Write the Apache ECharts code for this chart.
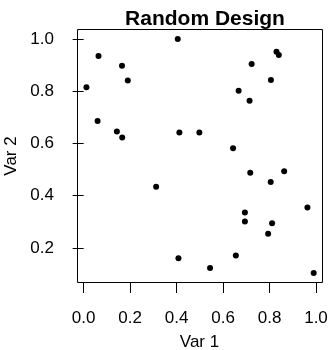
<!DOCTYPE html>
<html>
<head>
<meta charset="utf-8">
<script src="https://cdn.jsdelivr.net/npm/echarts@6/dist/echarts.min.js"></script>
<style>
  html, body { margin: 0; padding: 0; background: #fff; }
  #chart { width: 330px; height: 350px; }
</style>
</head>
<body>
<div id="chart"></div>
<script>
// points
const var1 = [0.012, 0.064, 0.060, 0.143, 0.166, 0.165, 0.190, 0.312, 0.405, 0.412,
  0.408, 0.498, 0.544, 0.643, 0.655, 0.667, 0.694, 0.694, 0.714, 0.723,
  0.717, 0.794, 0.805, 0.806, 0.811, 0.830, 0.840, 0.863, 0.963, 0.990];
const var2 = [0.815, 0.935, 0.686, 0.646, 0.623, 0.898, 0.841, 0.434, 1.000, 0.642,
  0.161, 0.642, 0.123, 0.582, 0.171, 0.802, 0.336, 0.301, 0.764, 0.904,
  0.488, 0.254, 0.452, 0.843, 0.295, 0.951, 0.939, 0.494, 0.355, 0.104];

const xTicks = [0, 0.2, 0.4, 0.6, 0.8, 1.0];
const yTicks = [0.2, 0.4, 0.6, 0.8, 1.0];

const font = 'Liberation Sans, Arial, Helvetica, sans-serif';
const X_MIN = -0.0286, X_MAX = 1.0258;
const Y_MIN = 0.0696, Y_MAX = 1.0344;

const lbl = { fontFamily: font, fontSize: 17, color: '#000' };
const tick = { show: true, inside: false, length: 11, lineStyle: { color: '#000', width: 1 } };

// one decimal, never throws whatever it gets
function oneDec(v) {
  let n = (v && typeof v === 'object') ? v.value : v;
  n = parseFloat(n);
  return isNaN(n) ? '' : n.toFixed(1);
}

const chart = echarts.init(document.getElementById('chart'));

chart.setOption({
  animation: false,
  title: {
    text: 'Random Design',
    left: 200, textAlign: 'center',
    top: 4,
    textStyle: { fontFamily: font, fontSize: 21, fontWeight: 'bold', color: '#000' }
  },
  grid: {
    left: 77, right: 8, top: 30, bottom: 68,
    outerBoundsMode: 'none', containLabel: false
  },
  xAxis: {
    type: 'value',
    min: X_MIN, max: X_MAX,
    name: 'Var 1', nameLocation: 'middle', nameGap: 52,
    nameTextStyle: { fontFamily: font, fontSize: 17, color: '#000' },
    axisLine: { show: false },
    splitLine: { show: false },
    axisTick: Object.assign({ customValues: xTicks }, tick),
    axisLabel: Object.assign({ customValues: xTicks, margin: 28, formatter: oneDec }, lbl)
  },
  yAxis: {
    type: 'value',
    min: Y_MIN, max: Y_MAX,
    name: 'Var 2', nameLocation: 'middle', nameGap: 52, nameRotate: 90,
    nameTextStyle: { fontFamily: font, fontSize: 17, color: '#000' },
    axisLine: { show: false },
    splitLine: { show: false },
    axisTick: Object.assign({ customValues: yTicks }, tick),
    axisLabel: Object.assign({ customValues: yTicks, margin: 23, formatter: oneDec }, lbl)
  },
  series: [{
    type: 'scatter',
    data: var1.map((x, i) => [x, var2[i]]),
    symbol: 'circle',
    symbolSize: 6,
    itemStyle: { color: '#000', opacity: 1 }
  }]
});

// plot frame: corners taken from the axes' own scales
const p0 = chart.convertToPixel({ gridIndex: 0 }, [X_MIN, Y_MAX]);
const p1 = chart.convertToPixel({ gridIndex: 0 }, [X_MAX, Y_MIN]);
const fx = Math.floor(p0[0]) + 0.5, fy = Math.floor(p0[1]) + 0.5;
const fx2 = Math.floor(p1[0]) + 0.5, fy2 = Math.floor(p1[1]) + 0.5;
chart.setOption({
  graphic: [{
    type: 'polyline', silent: true, z: 100,
    shape: { points: [[fx, fy], [fx2, fy], [fx2, fy2], [fx, fy2], [fx, fy]] },
    style: { stroke: '#000', lineWidth: 1, fill: null }
  }]
});
</script>
</body>
</html>
